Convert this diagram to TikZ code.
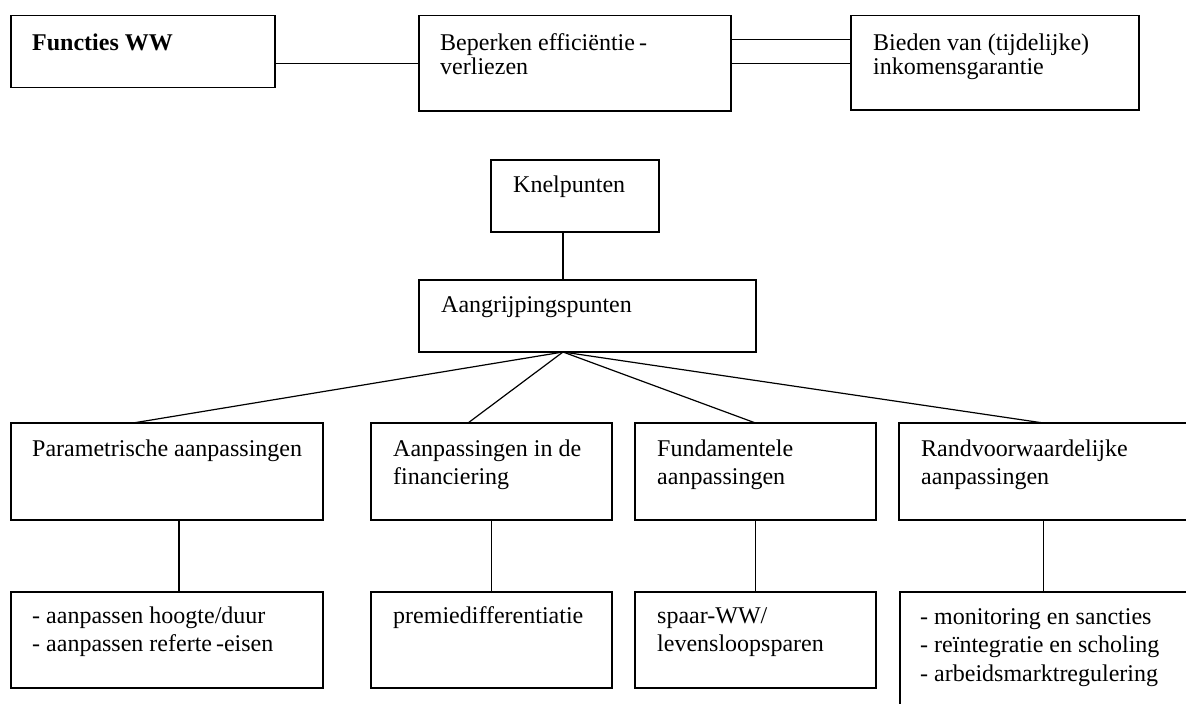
\documentclass[tikz,border=0pt]{standalone}
\usepackage{fontspec}
\setmainfont{Liberation Serif}
\usetikzlibrary{calc}
\begin{document}
\begin{tikzpicture}[x=1pt,y=-1pt,
  box/.style={draw, line width=1.2pt, rectangle, inner sep=0pt, outer sep=0pt, anchor=north west},
  txt/.style={anchor=base west, inner sep=0pt, font=\fontsize{24}{24}\selectfont},
  txtb/.style={anchor=base west, inner sep=0pt, font=\fontsize{24}{28.5}\selectfont},
  conn/.style={line width=1.2pt}]
\useasboundingbox (0,0) rectangle (1186,704);
\clip (0,0) rectangle (1186,704);
% top row
\node[box, minimum width=264pt, minimum height=72pt] (fw) at (11,15.7) {};
\node[box, minimum width=312pt, minimum height=95.3pt] (be) at (419,15.7) {};
\node[box, minimum width=288pt, minimum height=94.3pt] (bi) at (851,15.7) {};
\node[txt, font=\bfseries\fontsize{24}{24}\selectfont] (tfw) at (32,50) {Functies WW};
\node[txt] (tbe) at (440,50) {\begin{tabular}[t]{@{}l@{}}Beperken efficiëntie\,-\\verliezen\end{tabular}};
\node[txt] (tbi) at (873,50) {\begin{tabular}[t]{@{}l@{}}Bieden van (tijdelijke)\\inkomensgarantie\end{tabular}};
\draw[conn] ([yshift=-11.6pt]fw.east) coordinate (c1) -- (c1 -| be.west);
\draw[conn] (be.east) -- (be.east -| bi.west);
\draw[conn] ([yshift=24pt]be.east) coordinate (c2) -- (c2 -| bi.west);
% middle
\node[box, minimum width=168pt, minimum height=72pt] (kn) at (491,160) {};
\node[box, minimum width=337pt, minimum height=72pt] (ag) at (419,280) {};
\node[txt] (tkn) at (513,192) {Knelpunten};
\node[txt] (tag) at (441,312) {Aangrijpingspunten};
\draw[conn] ([xshift=-12pt]kn.south) coordinate (c3) -- (c3 |- ag.north);
\coordinate (hub) at (c3 |- ag.south);
% level 3
\node[box, minimum width=312pt, minimum height=97pt] (pa) at (11,423) {};
\node[box, minimum width=241pt, minimum height=97pt] (af) at (371,423) {};
\node[box, minimum width=241pt, minimum height=97pt] (fu) at (635,423) {};
\node[box, minimum width=289pt, minimum height=97pt] (ra) at (899,423) {};
\node[txtb] (tpa) at (32,456) {Parametrische aanpassingen};
\node[txtb] (taf) at (393,456) {\begin{tabular}[t]{@{}l@{}}Aanpassingen in de\\financiering\end{tabular}};
\node[txtb] (tfu) at (657,456) {\begin{tabular}[t]{@{}l@{}}Fundamentele\\aanpassingen\end{tabular}};
\node[txtb] (tra) at (921,456) {\begin{tabular}[t]{@{}l@{}}Randvoorwaardelijke\\aanpassingen\end{tabular}};
\draw[conn] (hub) -- ([xshift=-34pt]pa.north);
\draw[conn] (hub) -- ([xshift=-23.5pt]af.north);
\draw[conn] (hub) -- (fu.north);
\draw[conn] (hub) -- (ra.north);
% bottom
\node[box, minimum width=312pt, minimum height=96pt] (pb) at (11,592) {};
\node[box, minimum width=241pt, minimum height=96pt] (ab) at (371,592) {};
\node[box, minimum width=241pt, minimum height=96pt] (fb) at (635,592) {};
\node[box, minimum width=289pt, minimum height=140pt] (rb) at (900,592) {};
\node[txtb] (tpb) at (32,623) {\begin{tabular}[t]{@{}l@{}}- aanpassen hoogte/duur\\- aanpassen referte\,-eisen\end{tabular}};
\node[txtb] (tab) at (393,623) {premiedifferentiatie};
\node[txtb] (tfb) at (657,623) {\begin{tabular}[t]{@{}l@{}}spaar-WW/\\levensloopsparen\end{tabular}};
\node[txtb] (trb) at (920,624) {\begin{tabular}[t]{@{}l@{}}- monitoring en sancties\\- reïntegratie en scholing\\- arbeidsmarktregulering\end{tabular}};
\draw[conn] ([xshift=12pt]pa.south) coordinate (c4) -- (c4 |- pb.north);
\draw[conn] (af.south) -- (af.south |- ab.north);
\draw[conn] (fu.south) -- (fu.south |- fb.north);
\draw[conn] (ra.south) -- (ra.south |- rb.north);
\end{tikzpicture}
\end{document}
